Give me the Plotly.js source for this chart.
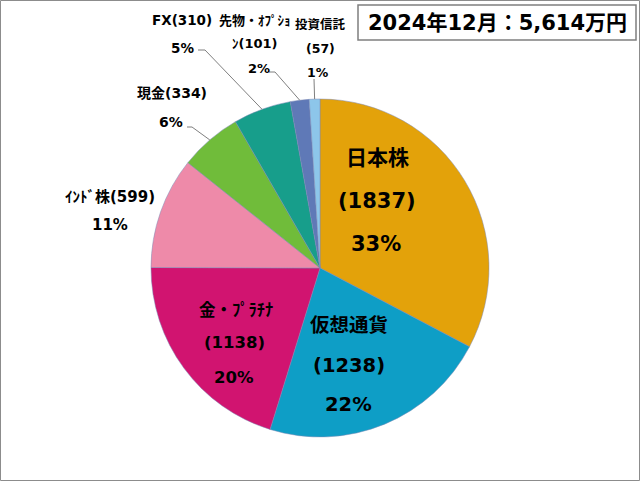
<!DOCTYPE html>
<html>
<head>
<meta charset="utf-8">
<script src="https://cdn.plot.ly/plotly-3.0.1.min.js"></script>
<style>html,body{margin:0;padding:0;background:#fff;}#chart{width:640px;height:481px;}</style>
</head>
<body>
<div id="chart"></div>
<script>
// ---- data ----
var categories = ["日本株", "仮想通貨", "金・ﾌﾟﾗﾁﾅ", "ｲﾝﾄﾞ株", "現金", "FX", "先物・ｵﾌﾟｼｮﾝ", "投資信託"];
var values = [1837, 1238, 1138, 599, 334, 310, 101, 57];
var pctLabels = ["33%", "22%", "20%", "11%", "6%", "5%", "2%", "1%"];
var colors = ["#E3A20A", "#0E9EC6", "#D11470", "#EE8AA9", "#70BC3A", "#179E8B", "#5F79B7", "#8DC6EA"];
var titleText = "2024年12月：5,614万円";

// ---- layout helpers ----
var W = 640, H = 481;
var cx = 320, cy = 268, R = 169;
function px(x) { return x / W; }
function py(y) { return 1 - y / H; }

function lineTexts(i) {
  var v = "(" + values[i] + ")";
  switch (i) {
    case 0: case 1: case 2: return [categories[i], v, pctLabels[i]];
    case 3: case 4: case 5: return [categories[i] + v, pctLabels[i]];
    case 6: return [categories[i].slice(0, 8), categories[i].slice(8) + v, pctLabels[i]];
    case 7: return [categories[i], v, pctLabels[i]];
  }
}
var labelPlace = [
  {x: [377, 377, 376], y: [158, 201, 244], size: 21},
  {x: [349, 349, 348], y: [325, 365, 404], size: 19.5},
  {x: [236, 234, 234], y: [310, 342, 377], size: 16.5},
  {x: [110, 110], y: [197, 225], size: 15},
  {x: [172, 171], y: [93, 122], size: 14},
  {x: [182, 182], y: [20, 48], size: 13.5},
  {x: [255, 255, 259], y: [20, 43, 68], size: 13},
  {x: [320, 320, 318], y: [24, 49, 73], size: 12.5}
];
var leaders = [
  {i: 4, sx: 187, sy: 127, hx: 192},
  {i: 5, sx: 198, sy: 50, hx: 205},
  {i: 6, sx: 269, sy: 72, hx: 275},
  {i: 7, sx: 314, sy: 79, hx: 314}
];

var total = values.reduce(function (a, b) { return a + b; }, 0);
var cum = [], acc = 0;
for (var k = 0; k < values.length; k++) { cum.push(acc); acc += values[k]; }
function edgePoint(i) {
  var mid = (cum[i] + values[i] / 2) / total * 2 * Math.PI;
  return {x: cx + R * Math.sin(mid), y: cy - R * Math.cos(mid)};
}

var annotations = [];
var font = "'DejaVu Sans', 'Noto Sans CJK JP', sans-serif";
for (var i = 0; i < categories.length; i++) {
  var lt = lineTexts(i), lp = labelPlace[i];
  for (var j = 0; j < lt.length; j++) {
    annotations.push({
      xref: "paper", yref: "paper", x: px(lp.x[j]), y: py(lp.y[j]),
      xanchor: "center", yanchor: "middle", showarrow: false,
      text: "<b>" + lt[j] + "</b>",
      font: {family: font, size: lp.size, color: "#000"}
    });
  }
}
annotations.push({
  xref: "paper", yref: "paper", x: px(497), y: py(23),
  xanchor: "center", yanchor: "middle", showarrow: false,
  text: "<b>" + titleText + "</b>",
  font: {family: font, size: 21, color: "#000"}
});

var shapes = [
  {type: "rect", xref: "paper", yref: "paper", x0: px(0.5), x1: px(639.5), y0: py(0.5), y1: py(480.5),
   line: {color: "#8c8c8c", width: 1}},
  {type: "rect", xref: "paper", yref: "paper", x0: px(358), x1: px(636), y0: py(5), y1: py(40),
   line: {color: "#7f7f7f", width: 1.5}}
];
leaders.forEach(function (l) {
  var e = edgePoint(l.i);
  shapes.push({
    type: "path", xref: "paper", yref: "paper",
    path: "M " + px(l.sx) + "," + py(l.sy) + " L " + px(l.hx) + "," + py(l.sy) + " L " + px(e.x) + "," + py(e.y),
    line: {color: "#7f7f7f", width: 1}
  });
});

var trace = {
  type: "pie",
  labels: categories,
  values: values,
  sort: false,
  direction: "clockwise",
  rotation: 0,
  textinfo: "none",
  hoverinfo: "label+value+percent",
  marker: {colors: colors, line: {color: "#7d88b4", width: 0.5}},
  domain: {x: [px(cx - R), px(cx + R)], y: [py(cy + R), py(cy - R)]},
  showlegend: false
};

var layout = {
  width: W, height: H,
  margin: {l: 0, r: 0, t: 0, b: 0},
  paper_bgcolor: "#ffffff",
  showlegend: false,
  annotations: annotations,
  shapes: shapes
};

Plotly.newPlot("chart", [trace], layout, {displayModeBar: false, staticPlot: true});
</script>
</body>
</html>
